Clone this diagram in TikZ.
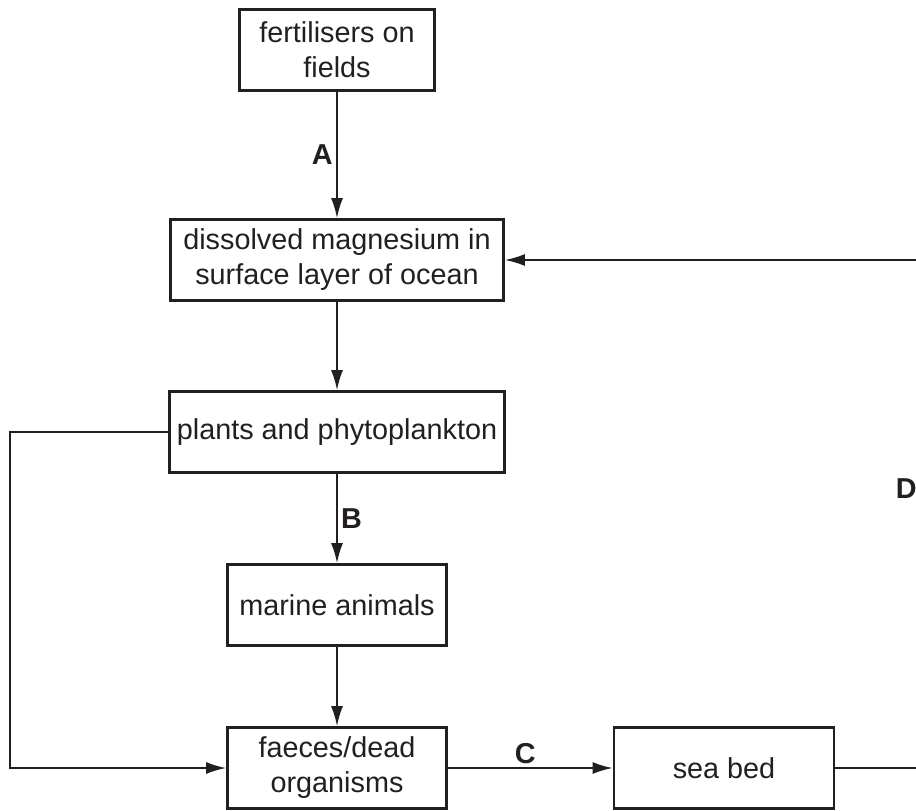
\documentclass[tikz,border=0pt]{standalone}
\usepackage{fontspec}
\setmainfont{Liberation Sans}
\usetikzlibrary{arrows.meta}
\usetikzlibrary{calc}
\definecolor{ink}{RGB}{35,31,32}
\newcommand{\midcol}{337}
\newcommand{\loopright}{921}
\tikzstyle{stage}=[
  draw=ink,
  line width=2.8pt,
  text=ink,
  align=center,
  inner sep=0pt,
  minimum height=81pt,
  font=\fontsize{28.8}{35}\selectfont
]
\tikzstyle{flow}=[
  -{Latex[length=20pt,width=12pt]},
  draw=ink,
  line width=1.8pt
]
\tikzstyle{tag}=[
  text=ink,
  font=\fontsize{28.8}{35}\selectfont\bfseries
]

\begin{document}
\begin{tikzpicture}[x=1pt, y=-1pt]
  \useasboundingbox (0,0) rectangle (916,811);
  \clip (0,0) rectangle (916,811);

  \node[stage, minimum width=195pt] (fert)    at (\midcol, 50)  {fertilisers on\\fields};
  \node[stage, minimum width=333pt] (diss)    at (\midcol, 260) {dissolved magnesium in\\surface layer of ocean};
  \node[stage, minimum width=335pt] (plants)  at (\midcol, 432) {plants and phytoplankton};
  \node[stage, minimum width=219pt] (marine)  at (\midcol, 605) {marine animals};
  \node[stage, minimum width=219pt] (faeces)  at (\midcol, 768) {faeces/dead\\organisms};
  \node[stage, minimum width=220pt] (seabed)  at (724, 768)     {sea bed};

  \coordinate (bendlow)  at (\loopright, 768);
  \coordinate (bendhigh) at (\loopright, 260);

  \draw[flow] (fert) -- (diss) node[midway, left, tag] {A};
  \draw[flow] (diss) -- (plants);
  \draw[flow] (plants) -- (marine) node[midway, right, tag] {B};
  \draw[flow] (marine) -- (faeces);
  \draw[flow] (faeces) -- (seabed) node[midway, above, tag, xshift=-5pt] {C};
  \draw[flow] (plants.west) -- ++(-158,0) |- (faeces.west);
  \draw[flow] (seabed) -- (bendlow) -- (bendhigh) node[pos=0.55, left, tag] {D} -- (diss);
\end{tikzpicture}
\end{document}
